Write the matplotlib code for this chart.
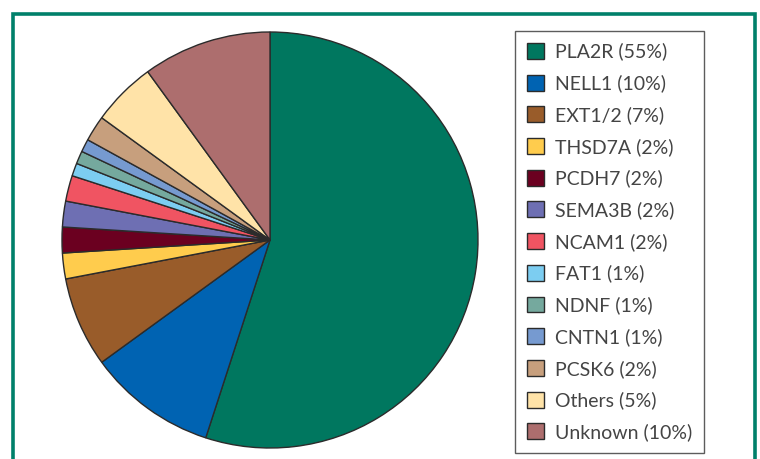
import matplotlib.pyplot as plt
from matplotlib.patches import Rectangle

labels = ['PLA2R', 'NELL1', 'EXT1/2', 'THSD7A', 'PCDH7', 'SEMA3B', 'NCAM1',
          'FAT1', 'NDNF', 'CNTN1', 'PCSK6', 'Others', 'Unknown']
shares = [55, 10, 7, 2, 2, 2, 2, 1, 1, 1, 2, 5, 10]
colors = ['#00775f', '#0063b2', '#995c2a', '#ffcc4d', '#6b0020', '#6e6fb3',
          '#f05462', '#7ccdf1', '#75a99e', '#769ad0', '#c79f7d', '#ffe3a8',
          '#ad6e6e']

W, H = 760, 459
fig = plt.figure(figsize=(W / 100, H / 100), dpi=100)

# green frame (bottom runs off the image)
fig.patches.append(Rectangle((12.5 / W, -0.05), (755 - 12.5) / W, (H - 13.5) / H + 0.05,
                             transform=fig.transFigure, fill=False,
                             edgecolor='#00806a', linewidth=2.6))

cx, cy, r = 270, 240, 208
ax = fig.add_axes([(cx - r) / W, (H - cy - r) / H, 2 * r / W, 2 * r / H])
wedges, _ = ax.pie(shares, colors=colors, startangle=90, counterclock=False,
                   wedgeprops=dict(edgecolor='#2b2b2b', linewidth=1.0))
ax.set_xlim(-1, 1)
ax.set_ylim(-1, 1)
ax.set_aspect('equal')
ax.axis('off')

leg_labels = [f'{l} ({s}%)' for l, s in zip(labels, shares)]
leg = fig.legend(wedges, leg_labels, loc='upper left',
                 bbox_to_anchor=(515 / W, 1 - 31 / H),
                 prop={'family': 'Lato', 'size': 14}, labelcolor='#444444',
                 frameon=True, fancybox=False, edgecolor='#333333',
                 handlelength=0.88, handleheight=0.88, handletextpad=0.6,
                 labelspacing=0.71, borderpad=0.6, borderaxespad=0)
leg.get_frame().set_linewidth(1.0)

fig.savefig('out.png', dpi=100)
